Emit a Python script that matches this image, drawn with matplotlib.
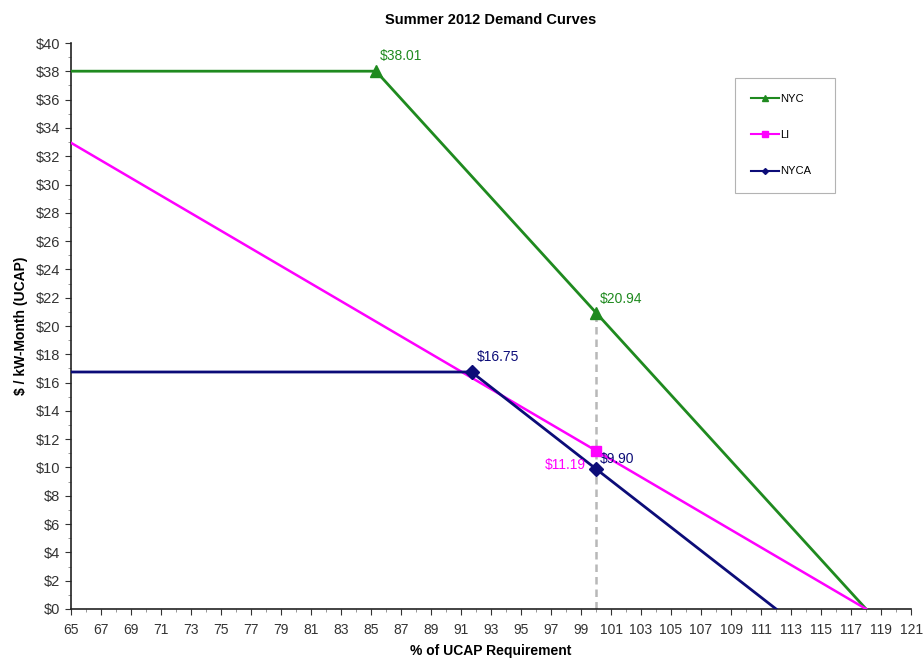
import numpy as np
from matplotlib import pyplot as plt
from matplotlib.ticker import MultipleLocator, FuncFormatter

plt.rcParams['font.family'] = ['Liberation Sans', 'DejaVu Sans']

nyc_x = [65, 85.33, 100, 118]
nyc_y = [38.01, 38.01, 20.94, 0]
li_x = [65, 100, 118]
li_y = [32.95, 11.19, 0]
nyca_x = [65, 91.7, 100, 112]
nyca_y = [16.75, 16.75, 9.90, 0]

green = "#1f8a1f"
magenta = "#ff00ff"
navy = "#0c0c78"

fig = plt.figure(figsize=(9.24, 6.59), dpi=100)
ax = fig.add_axes([0.0768, 0.0759, 0.9092, 0.8588])

# dashed line at 100%
ax.plot([100, 100], [0, nyc_y[2]], color="#b8b8b8", linestyle=(0, (3, 2)), linewidth=1.8, zorder=1)

ax.plot(nyc_x, nyc_y, color=green, linewidth=2, zorder=3)
ax.plot(nyc_x[1:3], nyc_y[1:3], linestyle="none", marker="^", markersize=9, color=green, zorder=4)
ax.plot(li_x, li_y, color=magenta, linewidth=1.8, zorder=3)
ax.plot(li_x[1], li_y[1], linestyle="none", marker="s", markersize=7, color=magenta, zorder=4)
ax.plot(nyca_x, nyca_y, color=navy, linewidth=2, zorder=3)
ax.plot(nyca_x[1:3], nyca_y[1:3], linestyle="none", marker="D", markersize=7, color=navy, zorder=4)

# legend handles
h1, = ax.plot([], [], color=green, marker="^", markersize=4, linewidth=1.5, label="NYC")
h2, = ax.plot([], [], color=magenta, marker="s", markersize=4, linewidth=1.5, label="LI")
h3, = ax.plot([], [], color=navy, marker="D", markersize=3, linewidth=1.5, label="NYCA")
leg = ax.legend(handles=[h1, h2, h3], loc="upper left", bbox_to_anchor=(0.790, 0.744, 0.120, 0.194),
                mode="expand", frameon=True, fancybox=False, edgecolor="#a0a0a0", fontsize=8,
                labelspacing=2.35, handlelength=2.5, handletextpad=0.1,
                borderpad=1.45, borderaxespad=0)
leg.get_frame().set_linewidth(0.8)

ax.annotate("$38.01", (nyc_x[1], nyc_y[1]), xytext=(3, 8), textcoords="offset points",
            color=green, fontsize=10)
ax.annotate("$20.94", (nyc_x[2], nyc_y[2]), xytext=(3, 7), textcoords="offset points",
            color=green, fontsize=10)
ax.annotate("$16.75", (nyca_x[1], nyca_y[1]), xytext=(4, 8), textcoords="offset points",
            color=navy, fontsize=10)
ax.annotate("$9.90", (nyca_x[2], nyca_y[2]), xytext=(3, 4), textcoords="offset points",
            color=navy, fontsize=10)
ax.annotate("$11.19", (li_x[1], li_y[1]), xytext=(-37, -13), textcoords="offset points",
            color=magenta, fontsize=10)

ax.set_xlim(65, 121)
ax.set_ylim(0, 40)
ax.set_xticks(np.arange(65, 122, 2))
ax.xaxis.set_minor_locator(MultipleLocator(1))
ax.yaxis.set_major_locator(MultipleLocator(2))
ax.yaxis.set_minor_locator(MultipleLocator(1))
ax.yaxis.set_major_formatter(FuncFormatter(lambda v, p: "$%d" % v))
ax.tick_params(axis="both", which="major", direction="out", length=4, labelsize=10.5, colors="#333333")
ax.tick_params(axis="x", labelsize=10)
ax.tick_params(axis="both", which="minor", direction="out", length=2, colors="#888888")
ax.tick_params(axis="x", pad=6)
for s in ["top", "right"]:
    ax.spines[s].set_visible(False)
for s in ["left", "bottom"]:
    ax.spines[s].set_linewidth(1.2)
    ax.spines[s].set_color("#222222")

ax.set_title("Summer 2012 Demand Curves", fontsize=10.5, fontweight="bold", pad=14)
ax.set_xlabel("% of UCAP Requirement", fontsize=10, fontweight="bold", labelpad=5)
ax.set_ylabel("$ / kW-Month (UCAP)", fontsize=10, fontweight="bold", labelpad=6)

fig.savefig("out.png", dpi=100)
